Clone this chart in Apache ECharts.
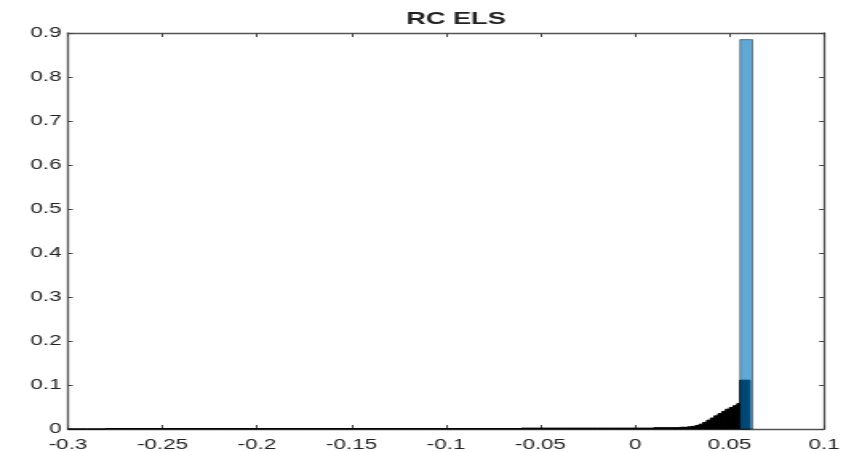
<!DOCTYPE html>
<html>
<head>
<meta charset="utf-8">
<script src="https://cdn.jsdelivr.net/npm/echarts@6/dist/echarts.min.js"></script>
<style>
  html, body { margin: 0; padding: 0; background: #fff; overflow: hidden; }
  #wrap { width: 862px; height: 452px; overflow: hidden; }
  /* the chart is laid out narrow and widened horizontally */
  #chart { width: 539px; height: 452px; transform: scaleX(1.5993); transform-origin: 0 0; }
</style>
</head>
<body>
<div id="wrap"><div id="chart"></div></div>
<script>
// Axis setup
const xMin = -0.3, xMax = 0.1, xStep = 0.05;
const yMin = 0, yMax = 0.9, yStep = 0.1;
const titleText = 'RC ELS';

// Black histogram: long low tail (bins of 0.01 starting at -0.3)
const tailStart = -0.3, tailStep = 0.01;
const tailCounts = [
  0.000, 0.000, 0.001, 0.001, 0.001, 0.001, 0.001, 0.001, 0.001, 0.001,
  0.001, 0.001, 0.001, 0.001, 0.001, 0.001, 0.001, 0.001, 0.001, 0.001,
  0.001, 0.001, 0.001, 0.001, 0.002, 0.002, 0.002, 0.002, 0.002, 0.002,
  0.002, 0.003
];
// Black histogram: rising shoulder (bins of 0.002 starting at 0.02)
const riseStart = 0.02, riseStep = 0.002;
const riseCounts = [
  0.003, 0.003, 0.004, 0.004, 0.005, 0.006, 0.008, 0.011, 0.015, 0.020,
  0.025, 0.030, 0.035, 0.040, 0.045, 0.049, 0.053
];
// Black histogram: last bins before the peak
const peakEdges = [0.054, 0.0556, 0.0608];
const peakCounts = [0.058, 0.111];

// Blue histogram
const blueEdges = [0.0556, 0.0622];
const blueCounts = [0.885];

function binsFromStep(start, step, counts) {
  return counts.map((v, i) => [start + step * i, start + step * (i + 1), v]);
}
function binsFromEdges(edges, counts) {
  return counts.map((v, i) => [edges[i], edges[i + 1], v]);
}

const blackBins = []
  .concat(binsFromStep(tailStart, tailStep, tailCounts))
  .concat(binsFromStep(riseStart, riseStep, riseCounts))
  .concat(binsFromEdges(peakEdges, peakCounts));
const blueBins = binsFromEdges(blueEdges, blueCounts);

function histRenderer(fill, stroke, lw) {
  return function (params, api) {
    const p0 = api.coord([api.value(0), 0]);
    const p1 = api.coord([api.value(1), api.value(2)]);
    return {
      type: 'rect',
      shape: { x: p0[0], y: p1[1], width: p1[0] - p0[0], height: p0[1] - p1[1] },
      style: { fill: fill, stroke: stroke, lineWidth: lw }
    };
  };
}

const axisLine = { show: true, onZero: false, lineStyle: { color: '#555', width: 1.3 } };
const tickStyle = { color: '#444' };
const labelFont = { fontFamily: 'Liberation Sans, Arial, sans-serif', fontSize: 14, color: '#222' };

const chart = echarts.init(document.getElementById('chart'));
chart.setOption({
  animation: false,
  backgroundColor: '#fff',
  title: {
    text: titleText,
    left: 249,
    top: 6,
    textStyle: { fontFamily: 'Liberation Sans, Arial, sans-serif', fontSize: 17, fontWeight: 'bold', color: '#222' }
  },
  grid: { left: 42.5, right: 23.8, top: 33, bottom: 21 },
  xAxis: [
    {
      type: 'value', min: xMin, max: xMax, interval: xStep, position: 'bottom',
      axisLine: axisLine,
      axisTick: { show: true, inside: true, length: 4, lineStyle: tickStyle },
      axisLabel: Object.assign({ margin: 9 }, labelFont),
      splitLine: { show: false }
    },
    {
      type: 'value', min: xMin, max: xMax, interval: xStep, position: 'top',
      axisLine: axisLine,
      axisTick: { show: true, inside: true, length: 4, lineStyle: tickStyle },
      axisLabel: { show: false },
      splitLine: { show: false }
    }
  ],
  yAxis: [
    {
      type: 'value', min: yMin, max: yMax, interval: yStep, position: 'left',
      axisLine: axisLine,
      axisTick: { show: true, inside: true, length: 3, lineStyle: tickStyle },
      axisLabel: Object.assign({ margin: 4 }, labelFont),
      splitLine: { show: false }
    },
    {
      type: 'value', min: yMin, max: yMax, interval: yStep, position: 'right',
      axisLine: axisLine,
      axisTick: { show: true, inside: true, length: 3, lineStyle: tickStyle },
      axisLabel: { show: false },
      splitLine: { show: false }
    }
  ],
  series: [
    {
      type: 'custom',
      xAxisIndex: 0, yAxisIndex: 0,
      renderItem: histRenderer('#000', '#000', 1),
      encode: { x: [0, 1], y: 2 },
      data: blackBins,
      z: 2
    },
    {
      type: 'custom',
      xAxisIndex: 0, yAxisIndex: 0,
      renderItem: histRenderer('rgba(0,114,189,0.62)', 'rgba(0,0,0,0.7)', 0.6),
      encode: { x: [0, 1], y: 2 },
      data: blueBins,
      z: 3
    }
  ]
});
</script>
</body>
</html>
